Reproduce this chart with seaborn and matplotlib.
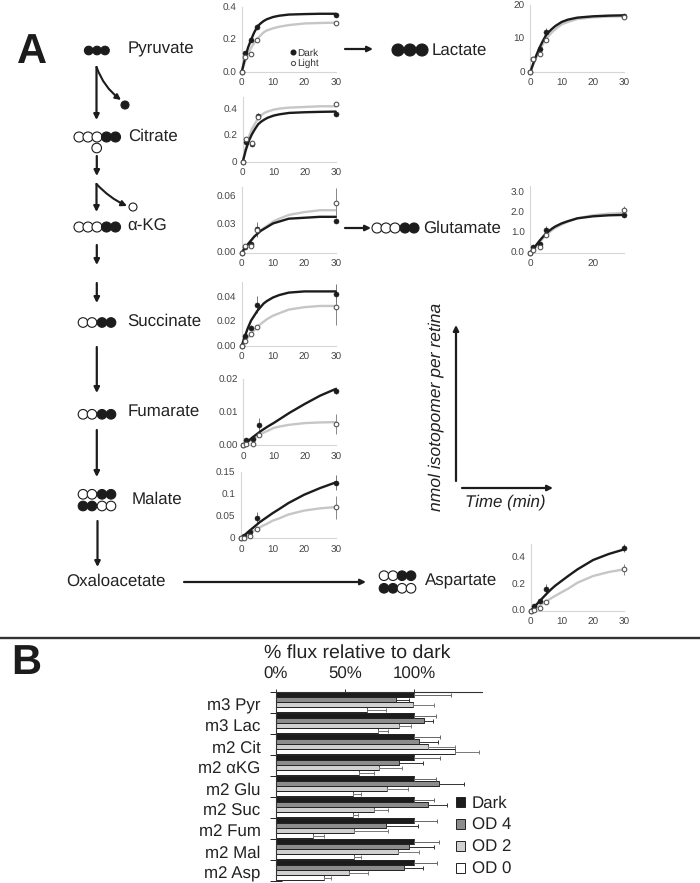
import numpy as np
import pandas as pd
import matplotlib

matplotlib.use('Agg')
import matplotlib.pyplot as plt
from matplotlib.patches import Circle
from matplotlib.transforms import ScaledTranslation
import seaborn as sns

W, H = 700, 883

# time course data
t_points = [0, 1, 3, 5, 30]
t_curve = [0, 1, 2, 3, 4, 5, 6, 7, 8, 10, 12, 15, 20, 25, 30]

pyr_dark = [0, 0.12, 0.2, 0.28, 0.355]
pyr_light = [0, 0.095, 0.11, 0.2, 0.30]
pyr_dark_err = [0, 0.01, 0.01, 0.015, 0.01]
pyr_light_err = [0, 0.005, 0.005, 0.01, 0.01]
pyr_dark_fit = [0, 0.08, 0.15, 0.2, 0.245, 0.28, 0.30, 0.315, 0.326, 0.34, 0.348, 0.355, 0.358, 0.36, 0.36]
pyr_light_fit = [0, 0.06, 0.11, 0.15, 0.18, 0.205, 0.226, 0.245, 0.257, 0.27, 0.28, 0.29, 0.3, 0.303, 0.305]

cit_dark = [0, 0.15, 0.135, 0.35, 0.36]
cit_light = [0, 0.175, 0.145, 0.34, 0.44]
cit_dark_err = [0, 0.01, 0.01, 0.02, 0.01]
cit_light_err = [0, 0.01, 0.01, 0.01, 0.01]
cit_dark_fit = [0, 0.09, 0.16, 0.21, 0.25, 0.285, 0.305, 0.32, 0.333, 0.35, 0.36, 0.37, 0.375, 0.378, 0.38]
cit_light_fit = [0, 0.11, 0.19, 0.25, 0.29, 0.33, 0.353, 0.37, 0.38, 0.395, 0.403, 0.41, 0.415, 0.42, 0.42]

akg_dark = [0, 0.006, 0.009, 0.025, 0.034]
akg_light = [0, 0.007, 0.007, 0.024, 0.053]
akg_dark_err = [0, 0.001, 0.002, 0.008, 0.002]
akg_light_err = [0, 0.001, 0.001, 0.002, 0.016]
akg_dark_fit = [0, 0.005, 0.009, 0.013, 0.017, 0.020, 0.023, 0.025, 0.027, 0.031, 0.033, 0.036, 0.037, 0.038, 0.038]
akg_light_fit = [0, 0.005, 0.009, 0.013, 0.017, 0.02, 0.023, 0.026, 0.028, 0.033, 0.036, 0.04, 0.043, 0.045, 0.045]

suc_dark = [0, 0.008, 0.015, 0.034, 0.043]
suc_light = [0, 0.004, 0.010, 0.016, 0.032]
suc_dark_err = [0, 0.001, 0.002, 0.007, 0.008]
suc_light_err = [0, 0.001, 0.001, 0.001, 0.015]
suc_dark_fit = [0, 0.008, 0.015, 0.021, 0.025, 0.029, 0.032, 0.035, 0.037, 0.040, 0.042, 0.044, 0.045, 0.045, 0.045]
suc_light_fit = [0, 0.004, 0.007, 0.010, 0.013, 0.016, 0.018, 0.020, 0.022, 0.025, 0.027, 0.030, 0.032, 0.033, 0.033]

fum_dark = [0, 0.0015, 0.002, 0.006, 0.0165]
fum_light = [0, 0.0005, 0.0005, 0.003, 0.0065]
fum_dark_err = [0, 0.0002, 0.0003, 0.0022, 0.001]
fum_light_err = [0, 0.0002, 0.0002, 0.0005, 0.003]
fum_dark_fit = [0, 0.0008, 0.0016, 0.0024, 0.0031, 0.0038, 0.0045, 0.0051, 0.0057, 0.0068, 0.0080, 0.0098, 0.0125, 0.015, 0.017]
fum_light_fit = [0, 0.0006, 0.0012, 0.0018, 0.0023, 0.0031, 0.0036, 0.0040, 0.0044, 0.0053, 0.0057, 0.0062, 0.0067, 0.0069, 0.007]

mal_dark = [0, 0.005, 0.015, 0.047, 0.126]
mal_light = [0, 0.001, 0.005, 0.022, 0.07]
mal_dark_err = [0, 0.001, 0.002, 0.012, 0.017]
mal_light_err = [0, 0.001, 0.001, 0.002, 0.027]
mal_dark_fit = [0, 0.006, 0.013, 0.019, 0.025, 0.031, 0.037, 0.042, 0.047, 0.057, 0.066, 0.08, 0.099, 0.114, 0.127]
mal_light_fit = [0, 0.004, 0.009, 0.013, 0.017, 0.021, 0.025, 0.029, 0.032, 0.04, 0.045, 0.054, 0.063, 0.068, 0.071]

asp_dark = [0, 0.035, 0.07, 0.16, 0.47]
asp_light = [0, 0.005, 0.02, 0.065, 0.31]
asp_dark_err = [0, 0.005, 0.01, 0.04, 0.03]
asp_light_err = [0, 0.005, 0.005, 0.005, 0.04]
asp_dark_fit = [0, 0.025, 0.05, 0.075, 0.10, 0.125, 0.148, 0.17, 0.19, 0.225, 0.26, 0.31, 0.38, 0.425, 0.46]
asp_light_fit = [0, 0.012, 0.025, 0.04, 0.055, 0.07, 0.085, 0.10, 0.113, 0.14, 0.165, 0.21, 0.26, 0.29, 0.31]

lac_dark = [0, 4, 7, 12, 16.7]
lac_light = [0, 4, 5.3, 9.7, 16.5]
lac_dark_err = [0, 0.2, 0.4, 1.2, 0.3]
lac_light_err = [0, 0.2, 0.2, 0.3, 0.3]
lac_dark_fit = [0, 2.7, 5.2, 7.4, 9.3, 11, 12.1, 13, 13.8, 15, 15.7, 16.3, 16.7, 16.9, 17]
lac_light_fit = [0, 2.3, 4.5, 6.5, 8.3, 9.8, 11, 12, 12.8, 14.3, 15, 15.9, 16.4, 16.6, 16.7]

glu_dark = [0, 0.3, 0.45, 1.1, 1.85]
glu_light = [0, 0.15, 0.27, 0.9, 2.1]
glu_dark_err = [0, 0.03, 0.05, 0.2, 0.05]
glu_light_err = [0, 0.03, 0.03, 0.05, 0.2]
glu_dark_fit = [0, 0.2, 0.4, 0.6, 0.78, 0.95, 1.08, 1.2, 1.3, 1.45, 1.56, 1.7, 1.8, 1.85, 1.87]
glu_light_fit = [0, 0.18, 0.36, 0.53, 0.7, 0.86, 1, 1.13, 1.23, 1.4, 1.53, 1.7, 1.85, 1.93, 1.97]

# flux data for panel B
flux_labels = ['m3 Pyr', 'm3 Lac', 'm2 Cit', 'm2 \u03b1KG', 'm2 Glu', 'm2 Suc', 'm2 Fum', 'm2 Mal', 'm2 Asp']
flux_dark = [100, 100, 100, 100, 100, 100, 100, 100, 100]
flux_od4 = [87, 107, 104, 89.4, 118, 110, 79.8, 96.6, 93]
flux_od2 = [99, 89, 110, 75, 80.7, 70.8, 56.6, 88.7, 53]
flux_od0 = [66, 73.7, 130, 60, 56, 56, 27, 56.4, 35]
tip_dark = [126.5, 115.7, 119, 119, 116, 114.7, 117, 118, 117]
tip_od4 = [96.6, 114, 117.6, 106.7, 136, 123.6, 102.6, 114.7, 106.7]
tip_od2 = [114.7, 97.6, 130, 91, 95.4, 81.4, 81.4, 104, 66.5]
tip_od0 = [79.5, 81, 146.7, 71, 61.4, 59.3, 35, 62, 40]

sns.set_theme(style='white')
plt.rcParams['font.family'] = ['Liberation Sans', 'DejaVu Sans']
plt.rcParams['text.color'] = '#222222'
plt.rcParams['text.hinting'] = 'no_hinting'

fig = plt.figure(figsize=(W / 100, H / 100), dpi=100)
bg = fig.add_axes([0, 0, 1, 1])
bg.set_xlim(0, W)
bg.set_ylim(H, 0)
bg.axis('off')


def px_axes(x0, x1, ybot, ytop):
    return fig.add_axes([x0 / W, 1 - ybot / H, (x1 - x0) / W, (ybot - ytop) / H])


def panel(box, dark, light, dark_err, light_err, dark_fit, light_fit, ymax, yticks, ylabels, xlabels=('0', '10', '20', '30')):
    ax = px_axes(*box)
    ax.patch.set_alpha(0)
    sns.lineplot(x=t_curve, y=light_fit, color='#c6c6c6', lw=1.7, ax=ax, errorbar=None, zorder=2, clip_on=False)
    sns.lineplot(x=t_curve, y=dark_fit, color='#1c1c1c', lw=1.7, ax=ax, errorbar=None, zorder=3, clip_on=False)
    ax.errorbar(t_points, light, yerr=light_err, fmt='none', ecolor='#888888', elinewidth=0.7, zorder=2, clip_on=False)
    ax.errorbar(t_points, dark, yerr=dark_err, fmt='none', ecolor='#777777', elinewidth=0.7, zorder=2, clip_on=False)
    sns.scatterplot(x=t_points, y=dark, color='#1c1c1c', s=13, edgecolor='#1c1c1c', linewidth=0.4, ax=ax, zorder=4, clip_on=False)
    sns.scatterplot(x=t_points, y=light, color='white', s=11, edgecolor='#555555', linewidth=0.8, ax=ax, zorder=5, clip_on=False)
    ax.set_xlim(0, 30)
    ax.set_ylim(0, ymax)
    ax.set_xticks([0, 10, 20, 30])
    ax.set_xticklabels(xlabels)
    ax.set_yticks(yticks)
    ax.set_yticklabels(ylabels)
    ax.tick_params(axis='both', labelsize=7.2, colors='#444444', length=1.5, width=0.5, color='#d0d0d0', pad=2.5)
    ax.tick_params(axis='x', direction='in', pad=5)
    sns.despine(ax=ax)
    for s in ['left', 'bottom']:
        ax.spines[s].set_color('#d6d6d6')
        ax.spines[s].set_linewidth(0.8)
    return ax


ax_pyr = panel((241.7, 335.7, 72, 7.3), pyr_dark, pyr_light, pyr_dark_err, pyr_light_err, pyr_dark_fit, pyr_light_fit,
               0.4, [0, 0.2, 0.4], ['0.0', '0.2', '0.4'])
panel((242.7, 335.7, 162, 97), cit_dark, cit_light, cit_dark_err, cit_light_err, cit_dark_fit, cit_light_fit,
      0.49, [0, 0.2, 0.4], ['0', '0.2', '0.4'])
panel((241.7, 335.7, 252.7, 186.6), akg_dark, akg_light, akg_dark_err, akg_light_err, akg_dark_fit, akg_light_fit,
      0.07, [0, 0.03, 0.06], ['0.00', '0.03', '0.06'])
panel((241.7, 335.7, 346, 281.7), suc_dark, suc_light, suc_dark_err, suc_light_err, suc_dark_fit, suc_light_fit,
      0.053, [0, 0.02, 0.04], ['0.00', '0.02', '0.04'])
panel((243.3, 335.7, 445.3, 379), fum_dark, fum_light, fum_dark_err, fum_light_err, fum_dark_fit, fum_light_fit,
      0.02, [0, 0.01, 0.02], ['0.00', '0.01', '0.02'])
panel((241, 335.7, 538.3, 472.3), mal_dark, mal_light, mal_dark_err, mal_light_err, mal_dark_fit, mal_light_fit,
      0.15, [0, 0.05, 0.1, 0.15], ['0', '0.05', '0.1', '0.15'])
panel((530.7, 624.3, 610.7, 544), asp_dark, asp_light, asp_dark_err, asp_light_err, asp_dark_fit, asp_light_fit,
      0.5, [0, 0.2, 0.4], ['0.0', '0.2', '0.4'])
panel((530.3, 624.3, 72, 5.3), lac_dark, lac_light, lac_dark_err, lac_light_err, lac_dark_fit, lac_light_fit,
      20, [0, 10, 20], ['0', '10', '20'])
panel((530.3, 624.3, 252.7, 186), glu_dark, glu_light, glu_dark_err, glu_light_err, glu_dark_fit, glu_light_fit,
      3.3, [0, 1, 2, 3], ['0.0', '1.0', '2.0', '3.0'], xlabels=('0', '', '20', ''))

# little key inside the pyruvate panel
bg.scatter([293], [52], s=11, color='#1c1c1c', zorder=6)
bg.scatter([293], [62.5], s=9, color='white', edgecolor='#555555', linewidth=0.8, zorder=6)
bg.text(297.5, 53, 'Dark', fontsize=7.2, color='#333333', va='center', zorder=6)
bg.text(297.5, 63.5, 'Light', fontsize=7.2, color='#333333', va='center', zorder=6)


def dots(xs, y, pattern, r):
    for x, p in zip(xs, pattern):
        bg.add_patch(Circle((x, y), r, fc='#1c1c1c' if p == 'f' else 'white', ec='#1c1c1c', lw=0.8))


def arrow(x0, y0, x1, y1, rad=0.0, lw=1.6):
    bg.annotate('', xy=(x1, y1), xytext=(x0, y0),
                arrowprops=dict(arrowstyle='-|>,head_length=0.32,head_width=0.16', color='#1c1c1c', lw=lw,
                                shrinkA=0, shrinkB=0, mutation_scale=10,
                                connectionstyle='arc3,rad=%s' % rad))


def label(x, y, s, **kw):
    bg.text(x, y, s, fontsize=12.2, va='center', ha='left', color='#222222', **kw)


# pathway
dots([88.7, 97, 105], 50.5, 'fff', 4.3)
label(127.7, 49, 'Pyruvate')
arrow(96.5, 67, 96.5, 120)
arrow(96.5, 67, 121, 100, rad=0.15, lw=1.5)
dots([125], 105, 'f', 4)
dots([79, 88, 97, 106.5, 115.5], 137, 'oooff', 5)
dots([96.7], 148, 'o', 4.8)
label(127.7, 136.5, 'Citrate')
arrow(96.8, 156, 96.8, 176)
arrow(96.5, 184, 96.5, 212)
arrow(96.5, 184, 127, 206, rad=0.1, lw=1.5)
dots([133], 207, 'o', 4)
dots([79, 88, 97, 106.5, 115.5], 227, 'oooff', 5)
label(127.7, 226, '\u03b1-KG')
arrow(96.8, 245, 96.8, 265)
arrow(96.8, 283, 96.8, 303)
dots([83, 92, 102, 111], 322.5, 'ooff', 4.8)
label(127.7, 321, 'Succinate')
arrow(96.8, 347, 96.8, 393)
dots([83, 92, 102, 111], 414.3, 'ooff', 4.8)
label(127.7, 411, 'Fumarate')
arrow(96.8, 430, 96.8, 477)
dots([83, 92, 102, 111], 494.3, 'ooff', 4.8)
dots([83, 92, 102, 111], 506, 'ffoo', 4.8)
label(132, 499, 'Malate')
arrow(97.5, 521, 97.5, 567)
label(66, 581, 'Oxaloacetate')
arrow(184, 582, 366, 582)
dots([384, 393, 402, 411], 575.7, 'ooff', 4.8)
dots([384, 393, 402, 411], 588.3, 'ffoo', 4.8)
label(425, 581, 'Aspartate')
arrow(345, 49, 373, 49)
dots([398, 410, 422], 50, 'fff', 6)
label(432, 50, 'Lactate')
arrow(345, 228, 371, 228)
dots([377, 386, 395, 405, 414], 228, 'oooff', 5)
label(423, 228, 'Glutamate')

# axes key
arrow(456, 481, 456, 325)
arrow(462, 488, 553, 488)
bg.text(436, 510.7, 'nmol isotopomer per retina', fontsize=12.6, style='italic', rotation=90,
        ha='center', va='bottom', color='#222222')
label(465, 501.7, 'Time (min)', style='italic')

# panel letters and separator
bg.text(17, 63, 'A', fontsize=30, fontweight='bold', color='#1c1c1c', ha='left', va='baseline')
bg.text(11, 674, 'B', fontsize=30, fontweight='bold', color='#1c1c1c', ha='left', va='baseline')
bg.plot([0, W], [637.7, 637.7], color='#333333', lw=1.7)

# panel B
conds = ['Dark', 'OD 4', 'OD 2', 'OD 0']
flux = pd.DataFrame({'label': flux_labels * 4,
                     'cond': np.repeat(conds, len(flux_labels)),
                     'value': flux_dark + flux_od4 + flux_od2 + flux_od0})
ax_b = px_axes(275.7, 481.7, 880.7, 691.7)
ax_b.patch.set_alpha(0)
sns.barplot(data=flux, y='label', x='value', hue='cond', orient='h', errorbar=None, width=0.96, gap=0,
            palette=['#1c1c1c', '#8c8c8c', '#d0d0d0', '#ffffff'], edgecolor='#222222', linewidth=0.7, ax=ax_b)
for cont, tips, col in zip(ax_b.containers, [tip_dark, tip_od4, tip_od2, tip_od0], ['#666666', '#333333', '#777777', '#777777']):
    ys = [b.get_y() + b.get_height() / 2 for b in cont]
    vals = np.array([b.get_width() for b in cont])
    ax_b.errorbar(vals, ys, xerr=[np.zeros(len(vals)), np.array(tips) - vals], fmt='none', ecolor=col,
                  elinewidth=0.7, capsize=1.3, capthick=0.7, zorder=3)
ax_b.set_xlim(0, 149)
ax_b.set_ylim(8.5, -0.5)
ax_b.set_xlabel('')
ax_b.set_ylabel('')
ax_b.xaxis.tick_top()
ax_b.set_xticks([0, 50, 100])
ax_b.set_xticklabels(['0%', '50%', '100%'])
ax_b.tick_params(axis='x', labelsize=12.2, length=2.5, width=0.7, color='#333333', labelcolor='#222222', pad=4.5, top=True)
ax_b.set_yticks(np.arange(-0.5, 9, 1), minor=True)
ax_b.tick_params(axis='y', which='major', length=0, labelsize=12.2, labelcolor='#222222', pad=11, left=False)
ax_b.tick_params(axis='y', which='minor', length=8, width=0.7, direction='inout', color='#222222', left=True)
shift = ScaledTranslation(0, -2 / 100, fig.dpi_scale_trans)
for t in ax_b.get_yticklabels():
    t.set_transform(t.get_transform() + shift)
for s in ['right', 'bottom']:
    ax_b.spines[s].set_visible(False)
for s in ['top', 'left']:
    ax_b.spines[s].set_color('#333333')
    ax_b.spines[s].set_linewidth(0.8)
sns.move_legend(ax_b, 'upper left', bbox_to_anchor=(455.5 / W, 1 - 796 / H), bbox_transform=fig.transFigure,
                frameon=False, title=None, fontsize=12.2, handlelength=0.55, handleheight=0.55, handletextpad=0.4,
                labelspacing=0.35, borderpad=0, borderaxespad=0)
bg.text(357, 652.7, '% flux relative to dark', fontsize=14, ha='center', va='center', color='#222222')

fig.savefig('out.png', dpi=100)
